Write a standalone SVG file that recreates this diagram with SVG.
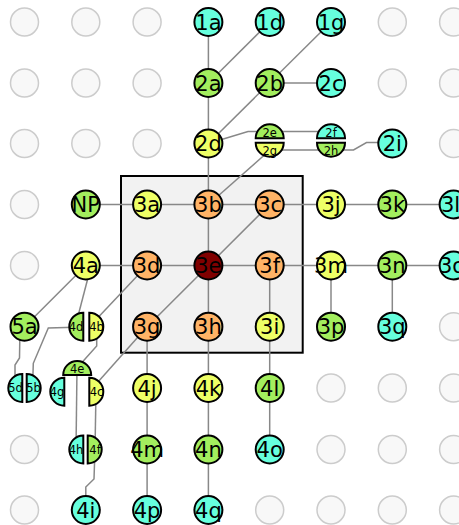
<svg xmlns="http://www.w3.org/2000/svg" width="459" height="525" viewBox="0 0 459 525">
<style>
.bg{fill:#f8f8f8;stroke:#cccccc;stroke-width:1.5}
.n{stroke:#000;stroke-width:2}
.c{fill:#66ffdd}.g{fill:#a3ee5e}.y{fill:#eeff66}.o{fill:#ffb366}.r{fill:#800000}
text{font-family:"DejaVu Sans",sans-serif;font-size:21px;text-anchor:middle;fill:#000}
text.s{font-size:11.5px}
#edges path,#edges line{stroke:#888;stroke-width:1.5;fill:none}
</style>
<g id="background">
<circle class="bg" cx="24.5" cy="22" r="14"/><circle class="bg" cx="85.8" cy="22" r="14"/><circle class="bg" cx="147.1" cy="22" r="14"/><circle class="bg" cx="392.3" cy="22" r="14"/><circle class="bg" cx="453.6" cy="22" r="14"/>
<circle class="bg" cx="24.5" cy="83" r="14"/><circle class="bg" cx="85.8" cy="83" r="14"/><circle class="bg" cx="147.1" cy="83" r="14"/><circle class="bg" cx="392.3" cy="83" r="14"/><circle class="bg" cx="453.6" cy="83" r="14"/>
<circle class="bg" cx="24.5" cy="143.5" r="14"/><circle class="bg" cx="85.8" cy="143.5" r="14"/><circle class="bg" cx="147.1" cy="143.5" r="14"/><circle class="bg" cx="453.6" cy="143.5" r="14"/>
<circle class="bg" cx="24.5" cy="204.5" r="14"/>
<circle class="bg" cx="24.5" cy="265.5" r="14"/>
<circle class="bg" cx="453.6" cy="326.7" r="14"/>
<circle class="bg" cx="331" cy="388" r="14"/><circle class="bg" cx="392.3" cy="388" r="14"/><circle class="bg" cx="453.6" cy="388" r="14"/>
<circle class="bg" cx="24.5" cy="449.5" r="14"/><circle class="bg" cx="331" cy="449.5" r="14"/><circle class="bg" cx="392.3" cy="449.5" r="14"/><circle class="bg" cx="453.6" cy="449.5" r="14"/>
<circle class="bg" cx="24.5" cy="510" r="14"/><circle class="bg" cx="269.7" cy="510" r="14"/><circle class="bg" cx="331" cy="510" r="14"/><circle class="bg" cx="392.3" cy="510" r="14"/><circle class="bg" cx="453.6" cy="510" r="14"/>
</g>
<rect id="box" x="121" y="176" width="181.7" height="176.7" fill="#f2f2f2" stroke="#000" stroke-width="2"/>
<g id="edges">
<line x1="208.4" y1="22" x2="208.4" y2="204.5"/>
<line x1="269.7" y1="22" x2="208.4" y2="83"/>
<line x1="331" y1="22" x2="208.4" y2="143.5"/>
<line x1="269.7" y1="83" x2="331" y2="83"/>
<path d="M208.4 143.5L248 131.5L331 131.5"/>
<path d="M270 150L353.5 150L366.5 142.5L392.3 142.5"/>
<line x1="270" y1="150" x2="208.4" y2="204.5"/>
<line x1="85.8" y1="204.5" x2="453.6" y2="204.5"/>
<line x1="85.8" y1="265.5" x2="453.6" y2="265.5"/>
<line x1="208.4" y1="204.5" x2="208.4" y2="510"/>
<line x1="269.7" y1="204.5" x2="147.1" y2="326.7"/>
<line x1="147.1" y1="326.7" x2="147.1" y2="510"/>
<line x1="269.7" y1="265.5" x2="269.7" y2="449.5"/>
<line x1="331" y1="265.5" x2="331" y2="326.7"/>
<line x1="392.3" y1="265.5" x2="392.3" y2="326.7"/>
<line x1="147.1" y1="326.7" x2="89.3" y2="391.7"/>
<line x1="147.1" y1="265.5" x2="89.3" y2="326.7"/>
<line x1="85.8" y1="265.5" x2="24.5" y2="326.7"/>
<line x1="90" y1="270" x2="77" y2="320"/>
<path d="M83.3 327L48.3 328L33.3 363.3L32.5 389"/>
<path d="M20 327L19.5 358L15 365L15 389"/>
<path d="M77 368L96.7 346L96.7 327"/>
<line x1="77" y1="368" x2="76" y2="449.5"/>
<line x1="96" y1="392" x2="95" y2="449.5"/>
<path d="M95 449.5L94 479L85.8 487L85.8 510"/>
</g>
<g id="n1a"><circle class="n c" cx="208.4" cy="22" r="14"/><text x="208.4" y="29.5">1a</text></g>
<g id="n1d"><circle class="n c" cx="269.7" cy="22" r="14"/><text x="269.7" y="29.5">1d</text></g>
<g id="n1g"><circle class="n c" cx="331" cy="22" r="14"/><text x="331" y="29.5">1g</text></g>
<g id="n2a"><circle class="n g" cx="208.4" cy="83" r="14"/><text x="208.4" y="90.5">2a</text></g>
<g id="n2b"><circle class="n g" cx="269.7" cy="83" r="14"/><text x="269.7" y="90.5">2b</text></g>
<g id="n2c"><circle class="n c" cx="331" cy="83" r="14"/><text x="331" y="90.5">2c</text></g>
<g id="n2d"><circle class="n y" cx="208.4" cy="143.5" r="14"/><text x="208.4" y="151">2d</text></g>
<g id="n2e"><path class="n g" d="M255.7 138.3A14 14 0 0 1 283.7 138.3Z"/><text class="s" x="269.7" y="137">2e</text></g>
<g id="n2g"><path class="n y" d="M255.7 142.7A14 14 0 0 0 283.7 142.7Z"/><text class="s" x="269.7" y="154.5">2g</text></g>
<g id="n2f"><path class="n c" d="M317 138.3A14 14 0 0 1 345 138.3Z"/><text class="s" x="331" y="137">2f</text></g>
<g id="n2h"><path class="n g" d="M317 142.7A14 14 0 0 0 345 142.7Z"/><text class="s" x="331" y="154.5">2h</text></g>
<g id="n2i"><circle class="n c" cx="392.3" cy="143.5" r="14"/><text x="392.3" y="151">2i</text></g>
<g id="nNP"><circle class="n g" cx="85.8" cy="204.5" r="14"/><text x="85.8" y="212">NP</text></g>
<g id="n3a"><circle class="n y" cx="147.1" cy="204.5" r="14"/><text x="147.1" y="212">3a</text></g>
<g id="n3b"><circle class="n o" cx="208.4" cy="204.5" r="14"/><text x="208.4" y="212">3b</text></g>
<g id="n3c"><circle class="n o" cx="269.7" cy="204.5" r="14"/><text x="269.7" y="212">3c</text></g>
<g id="n3j"><circle class="n y" cx="331" cy="204.5" r="14"/><text x="331" y="212">3j</text></g>
<g id="n3k"><circle class="n g" cx="392.3" cy="204.5" r="14"/><text x="392.3" y="212">3k</text></g>
<g id="n3l"><circle class="n c" cx="453.6" cy="204.5" r="14"/><text x="450.5" y="212">3l</text></g>
<g id="n4a"><circle class="n y" cx="85.8" cy="265.5" r="14"/><text x="85.8" y="273">4a</text></g>
<g id="n3d"><circle class="n o" cx="147.1" cy="265.5" r="14"/><text x="147.1" y="273">3d</text></g>
<g id="n3e"><circle class="n r" cx="208.4" cy="265.5" r="14"/><text x="208.4" y="273">3e</text></g>
<g id="n3f"><circle class="n o" cx="269.7" cy="265.5" r="14"/><text x="269.7" y="273">3f</text></g>
<g id="n3m"><circle class="n y" cx="331" cy="265.5" r="14"/><text x="331" y="273">3m</text></g>
<g id="n3n"><circle class="n g" cx="392.3" cy="265.5" r="14"/><text x="392.3" y="273">3n</text></g>
<g id="n3o"><circle class="n c" cx="453.6" cy="265.5" r="14"/><text x="452" y="273">3o</text></g>
<g id="n5a"><circle class="n g" cx="24.5" cy="326.7" r="14"/><text x="24.5" y="334.2">5a</text></g>
<g id="n4d"><path class="n g" d="M83.3 312.7A14 14 0 0 0 83.3 340.7Z"/><text class="s" x="76" y="331">4d</text></g>
<g id="n4b"><path class="n y" d="M89.3 312.7A14 14 0 0 1 89.3 340.7Z"/><text class="s" x="96.5" y="331">4b</text></g>
<g id="n3g"><circle class="n o" cx="147.1" cy="326.7" r="14"/><text x="147.1" y="334.2">3g</text></g>
<g id="n3h"><circle class="n o" cx="208.4" cy="326.7" r="14"/><text x="208.4" y="334.2">3h</text></g>
<g id="n3i"><circle class="n y" cx="269.7" cy="326.7" r="14"/><text x="269.7" y="334.2">3i</text></g>
<g id="n3p"><circle class="n g" cx="331" cy="326.7" r="14"/><text x="331" y="334.2">3p</text></g>
<g id="n3q"><circle class="n c" cx="392.3" cy="326.7" r="14"/><text x="392.3" y="334.2">3q</text></g>
<g id="n5d"><path class="n c" d="M22.3 374A14 14 0 0 0 22.3 402Z"/><text class="s" x="15.5" y="392">5d</text></g>
<g id="n5b"><path class="n c" d="M26.7 374A14 14 0 0 1 26.7 402Z"/><text class="s" x="33.5" y="392">5b</text></g>
<g id="n4e"><path class="n g" d="M63.2 375A14 14 0 0 1 91.2 375Z"/><text class="s" x="77.2" y="373">4e</text></g>
<g id="n4g"><path class="n c" d="M64.3 377.7A14 14 0 0 0 64.3 405.7Z"/><text class="s" x="57" y="395.5">4g</text></g>
<g id="n4c"><path class="n y" d="M89.3 377.7A14 14 0 0 1 89.3 405.7Z"/><text class="s" x="96.5" y="395.5">4c</text></g>
<g id="n4j"><circle class="n y" cx="147.1" cy="388" r="14"/><text x="147.1" y="395.5">4j</text></g>
<g id="n4k"><circle class="n y" cx="208.4" cy="388" r="14"/><text x="208.4" y="395.5">4k</text></g>
<g id="n4l"><circle class="n g" cx="269.7" cy="388" r="14"/><text x="269.7" y="395.5">4l</text></g>
<g id="n4h"><path class="n c" d="M83.3 435.5A14 14 0 0 0 83.3 463.5Z"/><text class="s" x="76" y="453.5">4h</text></g>
<g id="n4f"><path class="n g" d="M87.7 435.5A14 14 0 0 1 87.7 463.5Z"/><text class="s" x="95" y="453.5">4f</text></g>
<g id="n4m"><circle class="n g" cx="147.1" cy="449.5" r="14"/><text x="147.1" y="457">4m</text></g>
<g id="n4n"><circle class="n g" cx="208.4" cy="449.5" r="14"/><text x="208.4" y="457">4n</text></g>
<g id="n4o"><circle class="n c" cx="269.7" cy="449.5" r="14"/><text x="269.7" y="457">4o</text></g>
<g id="n4i"><circle class="n c" cx="85.8" cy="510" r="14"/><text x="85.8" y="517.5">4i</text></g>
<g id="n4p"><circle class="n c" cx="147.1" cy="510" r="14"/><text x="147.1" y="517.5">4p</text></g>
<g id="n4q"><circle class="n c" cx="208.4" cy="510" r="14"/><text x="208.4" y="517.5">4q</text></g>
</svg>
